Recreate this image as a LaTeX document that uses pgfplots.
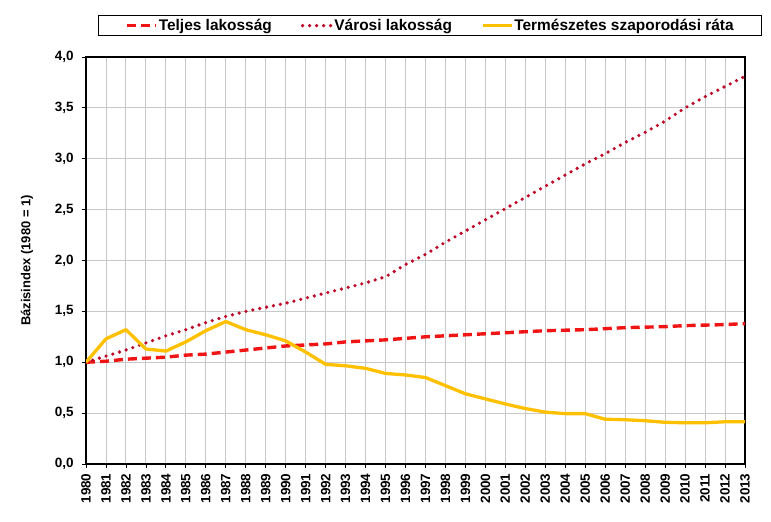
\documentclass[border=0pt]{standalone}
\usepackage{pgfplots}
\pgfplotsset{compat=1.18}
\usepackage{fontspec}
\setmainfont{Liberation Sans}
\definecolor{cred}{RGB}{240,20,20}
\definecolor{cdot}{RGB}{190,10,40}
\definecolor{cyel}{RGB}{255,192,0}
\definecolor{cgrid}{RGB}{200,200,200}
\begin{document}
\begin{tikzpicture}
\begin{axis}[
  scale only axis, width=659bp, height=407bp,
  xmin=1980, xmax=2013, ymin=0, ymax=4,
  xtick={1980,1981,...,2013},
  ytick={0,0.5,...,4},
  grid=major,
  grid style={cgrid, line width=0.9bp},
  axis line style={black, line width=1.1bp},
  tick align=outside, major tick length=4bp,
  tick style={black, line width=0.8bp},
  xtick pos=bottom, ytick pos=left,
  /pgf/number format/assume math mode=true,
  xticklabel shift=2bp,
  xticklabel style={rotate=90, anchor=east, font=\fontsize{13.5}{13.5}\selectfont\bfseries,
    /pgf/number format/1000 sep={}},
  yticklabel style={xshift=-5bp, font=\fontsize{13.5}{13.5}\selectfont\bfseries,
    /pgf/number format/.cd, use comma, fixed, fixed zerofill, precision=1},
  ylabel={Bázisindex (1980 = 1)},
  ylabel style={font=\fontsize{13}{13}\selectfont\bfseries, yshift=15bp},
  legend columns=3,
  legend style={at={(rel axis cs:0.0182,1.1025)}, anchor=north west,
    draw=black, line width=0.8bp, font=\fontsize{15.5}{15.5}\selectfont\bfseries,
    inner xsep=27bp, inner ysep=1.5bp,
    nodes={inner xsep=1bp},
    /tikz/every even column/.append style={column sep=28bp}},
  legend image code/.code={\draw[#1] (0bp,0bp) -- (29bp,0bp);},
]
\addplot[cred, line width=3.4bp, dash pattern=on 9bp off 5bp] coordinates {
(1980,1.00) (1981,1.01) (1982,1.03) (1983,1.04) (1984,1.05) (1985,1.07) (1986,1.08) (1987,1.10)
(1988,1.12) (1989,1.14) (1990,1.16) (1991,1.17) (1992,1.18) (1993,1.20) (1994,1.21) (1995,1.22)
(1996,1.235) (1997,1.25) (1998,1.26) (1999,1.27) (2000,1.28) (2001,1.29) (2002,1.30) (2003,1.31)
(2004,1.315) (2005,1.32) (2006,1.33) (2007,1.34) (2008,1.345) (2009,1.35) (2010,1.36) (2011,1.365)
(2012,1.37) (2013,1.38)};
\addlegendentry{Teljes lakosság}
\addplot[cdot, line width=3.6bp, line cap=round, dash pattern=on 0bp off 7bp] coordinates {
(1980,1.00) (1981,1.06) (1982,1.12) (1983,1.19) (1984,1.26) (1985,1.32) (1986,1.39) (1987,1.45)
(1988,1.50) (1989,1.54) (1990,1.58) (1991,1.63) (1992,1.68) (1993,1.73) (1994,1.78) (1995,1.84)
(1996,1.96) (1997,2.06) (1998,2.18) (1999,2.29) (2000,2.40) (2001,2.51) (2002,2.62) (2003,2.73)
(2004,2.84) (2005,2.95) (2006,3.05) (2007,3.16) (2008,3.26) (2009,3.37) (2010,3.50) (2011,3.61)
(2012,3.71) (2013,3.81)};
\addlegendentry{Városi lakosság}
\addplot[cyel, line width=3.3bp, line join=round] coordinates {
(1980,1.00) (1981,1.23) (1982,1.32) (1983,1.13) (1984,1.11) (1985,1.20) (1986,1.31) (1987,1.40)
(1988,1.32) (1989,1.27) (1990,1.21) (1991,1.10) (1992,0.98) (1993,0.965) (1994,0.94) (1995,0.89)
(1996,0.875) (1997,0.85) (1998,0.77) (1999,0.69) (2000,0.64) (2001,0.59) (2002,0.545) (2003,0.51)
(2004,0.495) (2005,0.495) (2006,0.44) (2007,0.435) (2008,0.425) (2009,0.41) (2010,0.405) (2011,0.405)
(2012,0.415) (2013,0.415)};
\addlegendentry{Természetes szaporodási ráta}
\end{axis}
\pgfresetboundingbox
\path (-86bp,-58bp) rectangle (685bp,464bp);
\end{tikzpicture}
\end{document}
